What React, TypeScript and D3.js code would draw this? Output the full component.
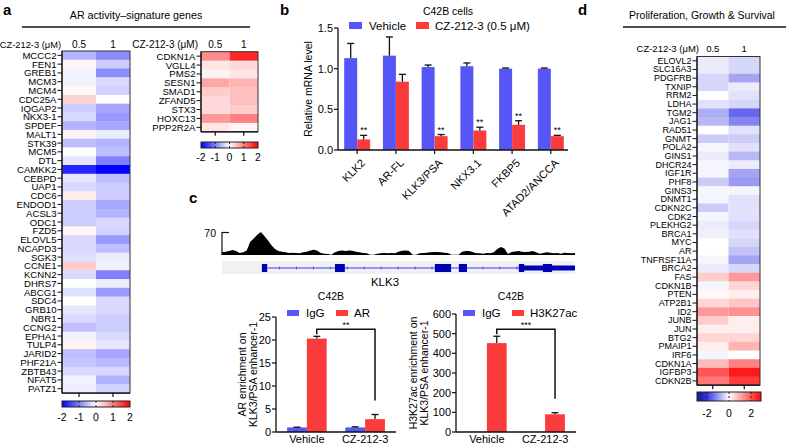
import React from "react";
import * as d3 from "d3";

const FONT = "'Liberation Sans', Arial, Helvetica, sans-serif";
const BLUE = "#5656f7";
const RED = "#fb3c3c";
const INK = "#111";

const doses = ["0.5", "1"];

// ---------- Panel a (AR activity-signature genes) ----------
const arGenes = ["MCCC2","FEN1","GREB1","MCM3","MCM4","CDC25A","IQGAP2","NKX3-1","SPDEF","MALT1","STK39","MCM5","DTL","CAMKK2","CEBPD","UAP1","CDC6","ENDOD1","ACSL3","ODC1","FZD5","ELOVL5","NCAPD3","SGK3","CCNE1","KCNN2","DHRS7","ABCG1","SDC4","GRB10","NBR1","CCNG2","EPHA1","TULP4","JARID2","PHF21A","ZBTB43","NFAT5","PATZ1"];
const arDose05 = [-0.6,0.08,-0.1,-0.1,0.05,0.35,-0.4,-0.3,-0.6,0.1,-0.5,0.0,-0.2,-1.7,-0.2,-0.3,0.15,-0.4,-0.4,-0.4,0.08,-0.3,-0.3,-0.25,0.4,-0.3,0.0,-0.25,0.0,-0.2,-0.3,-0.5,-0.1,0.1,-0.5,-0.45,-0.3,-0.1,-0.15];
const arDose1 = [-0.9,-0.4,-0.9,-0.3,-0.35,0.0,-0.7,-0.8,-0.7,-0.15,-0.6,-0.5,-1.0,-2.0,-0.5,-0.4,-0.4,-0.7,-0.6,-0.3,-0.35,-0.8,-0.5,-0.15,-0.1,-1.0,-0.15,-0.8,-0.3,-0.3,-0.4,-0.4,-0.3,-0.2,-0.7,-0.55,-0.3,-0.6,-0.35];
const upGenes = ["CDKN1A","VGLL4","PMS2","SESN1","SMAD1","ZFAND5","STX3","HOXC13","PPP2R2A"];
const upDose05 = [0.9,0.2,0.1,0.7,0.4,0.3,0.3,0.8,0.2];
const upDose1 = [1.7,0.3,0.2,0.6,0.5,0.5,0.4,1.0,0.1];
const aScaleTicks = [-2,-1,0,1,2];

// ---------- Panel b ----------
const bGenes = ["KLK2","AR-FL","KLK3/PSA","NKX3.1","FKBP5","ATAD2/ANCCA"];
const bVehicle = [1.13,1.16,1.02,1.03,1.0,1.0];
const bVehicleErr = [0.18,0.23,0.025,0.04,0.008,0.008];
const bCZ = [0.13,0.84,0.17,0.24,0.31,0.17];
const bCZErr = [0.05,0.09,0.02,0.04,0.05,0.01];
const bSig = ["**","","**","**","**","**"];
const bTicks = [0,0.5,1.0,1.5];

// ---------- Panel c ----------
const trackSignal = [8,10,12,15,12,6,8,14,40,50,62,70,58,45,30,18,12,10,8,6,7,6,5,8,10,14,16,13,6,4,3,1,8,12,14,12,14,13,10,8,6,5,1,1,4,5,6,5,6,5,10,13,14,12,1,1,5,6,7,8,9,9,8,7,6,1,1,1,10,12,12,9,5,5,4,6,5,8,18,24,20,3,9,11,12,10,9,10,12,8,4,6,8,7,5,6,4,7,6,5,6];
const geneSpan = [11.3, 100];
const exonFull = [[11.3,12.8],[32,34.8],[60.3,64.9],[67.1,69.4],[84.1,85.6],[90.9,93.5]];
const utrSpan = [84.1, 100];
const cCats = ["Vehicle","CZ-212-3"];
const arIgG = [1.0, 1.0];
const arIgGErr = [0.05, 0.12];
const arAR = [20.3, 2.8];
const arARErr = [0.5, 1.0];
const arTicks = [0,5,10,15,20,25];
const h3IgG = [1.5, 1.0];
const h3IgGErr = [0, 0];
const h3K27 = [452, 90];
const h3K27Err = [35, 8];
const h3Ticks = [0,100,200,300,400,500,600];

// ---------- Panel d ----------
const dGenes = ["ELOVL2","SLC16A3","PDGFRB","TXNIP","RRM2","LDHA","TGM2","JAG1","RAD51","GNMT","POLA2","GINS1","DHCR24","IGF1R","PHF8","GINS3","DNMT1","CDKN2C","CDK2","PLEKHG2","BRCA1","MYC","AR","TNFRSF11A","BRCA2","FAS","CDKN1B","PTEN","ATP2B1","ID2","JUNB","JUN","BTG2","PMAIP1","IRF6","CDKN1A","IGFBP3","CDKN2B"];
const dDose05 = [-0.2,-0.2,-0.4,-0.4,0.0,-0.3,-0.8,-0.7,0.0,-0.5,-0.1,-0.2,-0.1,-0.1,-0.5,-0.1,-0.1,-0.5,-0.1,-0.2,-0.15,0.0,0.0,-0.1,-0.2,0.6,-0.1,0.1,0.5,1.2,0.6,0.2,0.5,0.2,-0.1,0.8,2.0,1.6];
const dDose1 = [-0.4,-0.4,-0.9,-0.2,-0.3,-0.4,-1.5,-1.2,-0.3,-0.5,-0.3,-0.7,-0.2,-0.9,-1.0,-0.1,-0.3,-0.3,-0.3,-0.4,-0.3,-0.4,-0.6,-0.9,-0.4,1.2,0.5,0.2,0.7,1.3,0.2,0.2,0.5,0.9,0.0,1.5,2.7,2.3];
const dScaleTicks = [-2,0,2];

const aColor = d3.scaleLinear<string>().domain([-2,0,2]).range(["#0000ff","#ffffff","#ff0000"]).interpolate(d3.interpolateRgb).clamp(true);
const dColor = d3.scaleLinear<string>().domain([-3,-2,0,3]).range(["#141480","#3434e4","#ffffff","#ff0000"]).interpolate(d3.interpolateRgb).clamp(true);

function Heatmap({ genes, c05, c1, left, top, cw, rh, color, fs }: any) {
  const x = d3.scaleBand().domain(doses).range([left, left + cw * 2]);
  const y = d3.scaleBand().domain(genes).range([top, top + rh * genes.length]);
  const bottom = top + rh * genes.length;
  return (
    <g>
      {genes.map((g: string, i: number) => (
        <g key={g + i}>
          <rect x={x("0.5")} y={y(g)} width={x.bandwidth()} height={y.bandwidth() + 0.4} fill={color(c05[i])} />
          <rect x={x("1")} y={y(g)} width={x.bandwidth()} height={y.bandwidth() + 0.4} fill={color(c1[i])} />
          <line x1={left - 4.5} x2={left} y1={(y(g) as number) + rh / 2} y2={(y(g) as number) + rh / 2} stroke={INK} strokeWidth={1} />
          <text x={left - 5.5} y={(y(g) as number) + rh / 2} textAnchor="end" dominantBaseline="central" fontSize={fs}>{g}</text>
        </g>
      ))}
      <rect x={left} y={top} width={cw * 2} height={bottom - top} fill="none" stroke="#333" strokeWidth={1} />
      <line x1={left} x2={left} y1={top} y2={bottom} stroke={INK} strokeWidth={1.2} />
      <line x1={left} x2={left + cw * 2} y1={bottom} y2={bottom} stroke={INK} strokeWidth={1.2} />
      {doses.map((d) => (
        <line key={d} x1={(x(d) as number) + cw / 2} x2={(x(d) as number) + cw / 2} y1={bottom} y2={bottom + 4} stroke={INK} strokeWidth={1.2} />
      ))}
    </g>
  );
}

function DoseHeader({ xLabelRight, left, cw, y, fs, lfs }: any) {
  const x = d3.scaleBand().domain(doses).range([left, left + cw * 2]);
  return (
    <g fontSize={fs}>
      <text x={xLabelRight} y={y} textAnchor="end" fontSize={lfs || fs}>CZ-212-3 (μM)</text>
      {doses.map((d) => (
        <text key={d} x={(x(d) as number) + cw / 2} y={y} textAnchor="middle">{d}</text>
      ))}
    </g>
  );
}

function ColorBar({ id, left, top, w, h, color, domain, ticks, innerTicks, labelY, fs }: any) {
  const s = d3.scaleLinear().domain(domain).range([left, left + w]);
  const samples = d3.range(0, 21).map((i) => domain[0] + (i / 20) * (domain[1] - domain[0]));
  return (
    <g>
      <defs>
        <linearGradient id={id} x1="0" x2="1" y1="0" y2="0">
          {samples.map((v, i) => (
            <stop key={i} offset={`${(i / 20) * 100}%`} stopColor={color(v)} />
          ))}
        </linearGradient>
      </defs>
      <rect x={left} y={top} width={w} height={h} fill={`url(#${id})`} stroke="#222" strokeWidth={1} />
      {innerTicks.map((t: number) => (
        <line key={t} x1={s(t)} x2={s(t)} y1={top} y2={top + h} stroke="#222" strokeWidth={1} strokeDasharray="2,2" />
      ))}
      {ticks.map((t: number) => (
        <text key={t} x={s(t)} y={labelY} textAnchor="middle" fontSize={fs}>{t}</text>
      ))}
    </g>
  );
}

function ErrBar({ cx, y0, y1 }: any) {
  return (
    <g stroke={INK} strokeWidth={1.3}>
      <line x1={cx} x2={cx} y1={y0} y2={y1} />
      <line x1={cx - 3.5} x2={cx + 3.5} y1={y1} y2={y1} />
    </g>
  );
}

function ChipBars({ axisX, range, yTop, yMax, ticks, igg, iggErr, trt, trtErr, trtName, legendX, titleX, ylab1, ylab2, ylabX1, ylabX2, stars }: any) {
  const base = 432;
  const y = d3.scaleLinear().domain([0, yMax]).range([base, yTop]);
  const x = d3.scaleBand().domain(cCats).range(range).paddingInner(0.32).paddingOuter(0.19);
  const bw = x.bandwidth() / 2;
  const cTrt = cCats.map((c) => (x(c) as number) + bw * 1.5);
  const bracketY = y(trt[0] + trtErr[0]) - 7;
  const rightEnd = y(trt[1] + trtErr[1]) - 14;
  const midY = (base + yTop) / 2;
  return (
    <g>
      <text x={titleX} y={300} textAnchor="middle" fontSize={10.5}>C42B</text>
      <rect x={legendX} y={310} width={12} height={6} fill={BLUE} />
      <text x={legendX + 19} y={317} fontSize={11.5}>IgG</text>
      <rect x={legendX + 49} y={310} width={12} height={6} fill={RED} />
      <text x={legendX + 67} y={317} fontSize={11.5}>{trtName}</text>
      {cCats.map((c, i) => (
        <g key={c}>
          <rect x={x(c)} y={y(igg[i])} width={bw} height={base - y(igg[i])} fill={BLUE} />
          <rect x={(x(c) as number) + bw} y={y(trt[i])} width={bw} height={base - y(trt[i])} fill={RED} />
          {iggErr[i] > 0 && <ErrBar cx={(x(c) as number) + bw / 2} y0={y(igg[i])} y1={y(igg[i] + iggErr[i])} />}
          <ErrBar cx={(x(c) as number) + bw * 1.5} y0={y(trt[i])} y1={y(trt[i] + trtErr[i])} />
          <text x={(x(c) as number) + bw} y={443} textAnchor="middle" fontSize={11}>{c}</text>
        </g>
      ))}
      <path d={`M${cTrt[0]},${bracketY + 5}V${bracketY}H${cTrt[1]}V${rightEnd}`} fill="none" stroke={INK} strokeWidth={1.5} />
      <text x={(cTrt[0] + cTrt[1]) / 2} y={bracketY - 1} textAnchor="middle" fontSize={9}>{stars}</text>
      <line x1={axisX} x2={axisX} y1={yTop} y2={base} stroke={INK} strokeWidth={1.3} />
      <line x1={axisX} x2={range[1]} y1={base} y2={base} stroke={INK} strokeWidth={1.3} />
      {ticks.map((t: number) => (
        <g key={t}>
          <line x1={axisX - 4} x2={axisX} y1={y(t)} y2={y(t)} stroke={INK} strokeWidth={1.2} />
          <text x={axisX - 5} y={y(t)} textAnchor="end" dominantBaseline="central" fontSize={11}>{t}</text>
        </g>
      ))}
      <text transform={`translate(${ylabX1},${midY}) rotate(-90)`} textAnchor="middle" dominantBaseline="central" fontSize={10.5}>{ylab1}</text>
      <text transform={`translate(${ylabX2},${midY}) rotate(-90)`} textAnchor="middle" dominantBaseline="central" fontSize={10.5}>{ylab2}</text>
    </g>
  );
}

export default function App() {
  // panel b scales
  const bx = d3.scaleBand().domain(bGenes).range([338, 570]).paddingInner(0.33).paddingOuter(0.16);
  const by = d3.scaleLinear().domain([0, 1.5]).range([150, 28]);
  const bbw = bx.bandwidth() / 2;

  // track
  const tx = d3.scaleLinear().domain([0, 100]).range([222, 575]);
  const ty = d3.scaleLinear().domain([0, 70]).range([255, 232]);
  const step = 100 / (trackSignal.length - 1);
  const area = d3.area<number>().x((_, i) => tx(i * step)).y0(255).y1((d) => ty(d)).curve(d3.curveLinear);
  const geneY = 268;
  const chevrons = d3.range(geneSpan[0] + 5, utrSpan[0], 4.8);

  return (
    <svg width={786} height={446} style={{ position: "absolute", left: 0, top: 0, background: "#fff" }} fontFamily={FONT}>
      <rect width={786} height={446} fill="#fff" />
      {/* Panel letters */}
      <g fontWeight="bold" fontSize={15}>
        <text x={3} y={15}>a</text>
        <text x={280} y={15}>b</text>
        <text x={189} y={203}>c</text>
        <text x={578} y={15}>d</text>
      </g>

      {/* Panel a */}
      <text x={136} y={19} textAnchor="middle" fontSize={10.7}>AR activity–signature genes</text>
      <line x1={22} x2={250} y1={27} y2={27} stroke={INK} strokeWidth={1.5} />
      <DoseHeader xLabelRight={61} left={62} cw={34} y={48} fs={10} lfs={9.3} />
      <Heatmap genes={arGenes} c05={arDose05} c1={arDose1} left={62} top={51} cw={34} rh={8.77} color={aColor} fs={9.6} />
      <ColorBar id="gA1" left={62} top={401} w={68} h={6} color={aColor} domain={[-2, 2]} ticks={aScaleTicks} innerTicks={[-1, 0, 1]} labelY={421} fs={10.5} />

      <DoseHeader xLabelRight={198} left={201} cw={28.5} y={48} fs={10} />
      <Heatmap genes={upGenes} c05={upDose05} c1={upDose1} left={201} top={51.7} cw={28.5} rh={8.9} color={aColor} fs={9.6} />
      <ColorBar id="gA2" left={201} top={142} w={57} h={6} color={aColor} domain={[-2, 2]} ticks={aScaleTicks} innerTicks={[-1, 0, 1]} labelY={161} fs={10.5} />

      {/* Panel b */}
      <text x={448} y={15} textAnchor="middle" fontSize={10.5}>C42B cells</text>
      <rect x={349} y={22} width={13} height={7} fill={BLUE} />
      <text x={369} y={30} fontSize={11.5}>Vehicle</text>
      <rect x={416} y={22} width={13} height={7} fill={RED} />
      <text x={435} y={30} fontSize={11.5}>CZ-212-3 (0.5 μM)</text>
      {bGenes.map((g, i) => {
        const x0 = bx(g) as number;
        return (
          <g key={g}>
            <rect x={x0} y={by(bVehicle[i])} width={bbw} height={150 - by(bVehicle[i])} fill={BLUE} />
            <rect x={x0 + bbw} y={by(bCZ[i])} width={bbw} height={150 - by(bCZ[i])} fill={RED} />
            <ErrBar cx={x0 + bbw / 2} y0={by(bVehicle[i])} y1={by(bVehicle[i] + bVehicleErr[i])} />
            <ErrBar cx={x0 + bbw * 1.5} y0={by(bCZ[i])} y1={by(bCZ[i] + bCZErr[i])} />
            {bSig[i] && <text x={x0 + bbw * 1.5} y={by(bCZ[i] + bCZErr[i]) - 2} textAnchor="middle" fontSize={9}>{bSig[i]}</text>}
            <line x1={x0 + bbw} x2={x0 + bbw} y1={150} y2={154} stroke={INK} strokeWidth={1.2} />
            <text transform={`translate(${x0 + bbw + 3},${158}) rotate(-45)`} textAnchor="end" dominantBaseline="hanging" fontSize={11}>{g}</text>
          </g>
        );
      })}
      <line x1={338} x2={338} y1={28} y2={150} stroke={INK} strokeWidth={1.3} />
      <line x1={338} x2={568} y1={150} y2={150} stroke={INK} strokeWidth={1.3} />
      {bTicks.map((t) => (
        <g key={t}>
          <line x1={334} x2={338} y1={by(t)} y2={by(t)} stroke={INK} strokeWidth={1.2} />
          <text x={333} y={by(t)} textAnchor="end" dominantBaseline="central" fontSize={11}>{t.toFixed(1)}</text>
        </g>
      ))}
      <text transform={`translate(308,89) rotate(-90)`} textAnchor="middle" dominantBaseline="central" fontSize={10.5}>Relative mRNA level</text>

      {/* Panel c track */}
      <text x={216} y={237} textAnchor="end" fontSize={10.5}>70</text>
      <line x1={222} x2={222} y1={232} y2={255} stroke={INK} strokeWidth={1.2} />
      <line x1={222} x2={229} y1={232.5} y2={232.5} stroke={INK} strokeWidth={1.2} />
      <path d={area(trackSignal) as string} fill="#000" />
      <rect x={222} y={261} width={353} height={13} fill="#f1f1f3" />
      <line x1={tx(geneSpan[0])} x2={tx(geneSpan[1])} y1={geneY} y2={geneY} stroke="#3c3cff" strokeWidth={1} />
      {chevrons.map((c, i) => (
        <line key={i} x1={tx(c)} x2={tx(c)} y1={geneY - 1.5} y2={geneY + 1.5} stroke="#3c3cff" strokeWidth={0.8} />
      ))}
      <rect x={tx(utrSpan[0])} y={geneY - 2.5} width={tx(utrSpan[1]) - tx(utrSpan[0])} height={5} fill="#0000b4" />
      {exonFull.map((e, i) => (
        <rect key={i} x={tx(e[0])} y={geneY - 4} width={tx(e[1]) - tx(e[0])} height={8} fill="#0000b4" />
      ))}
      <text x={385} y={286} textAnchor="middle" fontSize={11.5}>KLK3</text>

      <ChipBars axisX={276} range={[276, 396]} yTop={317} yMax={25} ticks={arTicks} igg={arIgG} iggErr={arIgGErr} trt={arAR} trtErr={arARErr} trtName="AR" legendX={287} titleX={331} ylab1="AR enrichment on" ylab2="KLK3/PSA enhancer-1" ylabX1={242} ylabX2={253} stars="**" />
      <ChipBars axisX={456} range={[456, 576]} yTop={314} yMax={600} ticks={h3Ticks} igg={h3IgG} iggErr={h3IgGErr} trt={h3K27} trtErr={h3K27Err} trtName="H3K27ac" legendX={463} titleX={511} ylab1="H3K27ac enrichment on" ylab2="KLK3/PSA enhancer-1" ylabX1={413} ylabX2={424} stars="***" />

      {/* Panel d */}
      <text x={702} y={19} textAnchor="middle" fontSize={10.5}>Proliferation, Growth &amp; Survival</text>
      <line x1={623} x2={786} y1={27} y2={27} stroke={INK} strokeWidth={1.5} />
      <DoseHeader xLabelRight={699} left={697} cw={31.5} y={52} fs={9.5} />
      <Heatmap genes={dGenes} c05={dDose05} c1={dDose1} left={697} top={56.5} cw={31.5} rh={8.65} color={dColor} fs={9} />
      <ColorBar id="gD" left={697} top={392} w={64} h={9} color={dColor} domain={[-2.9, 2.9]} ticks={dScaleTicks} innerTicks={[-2, 0, 2]} labelY={417} fs={10.5} />
    </svg>
  );
}
